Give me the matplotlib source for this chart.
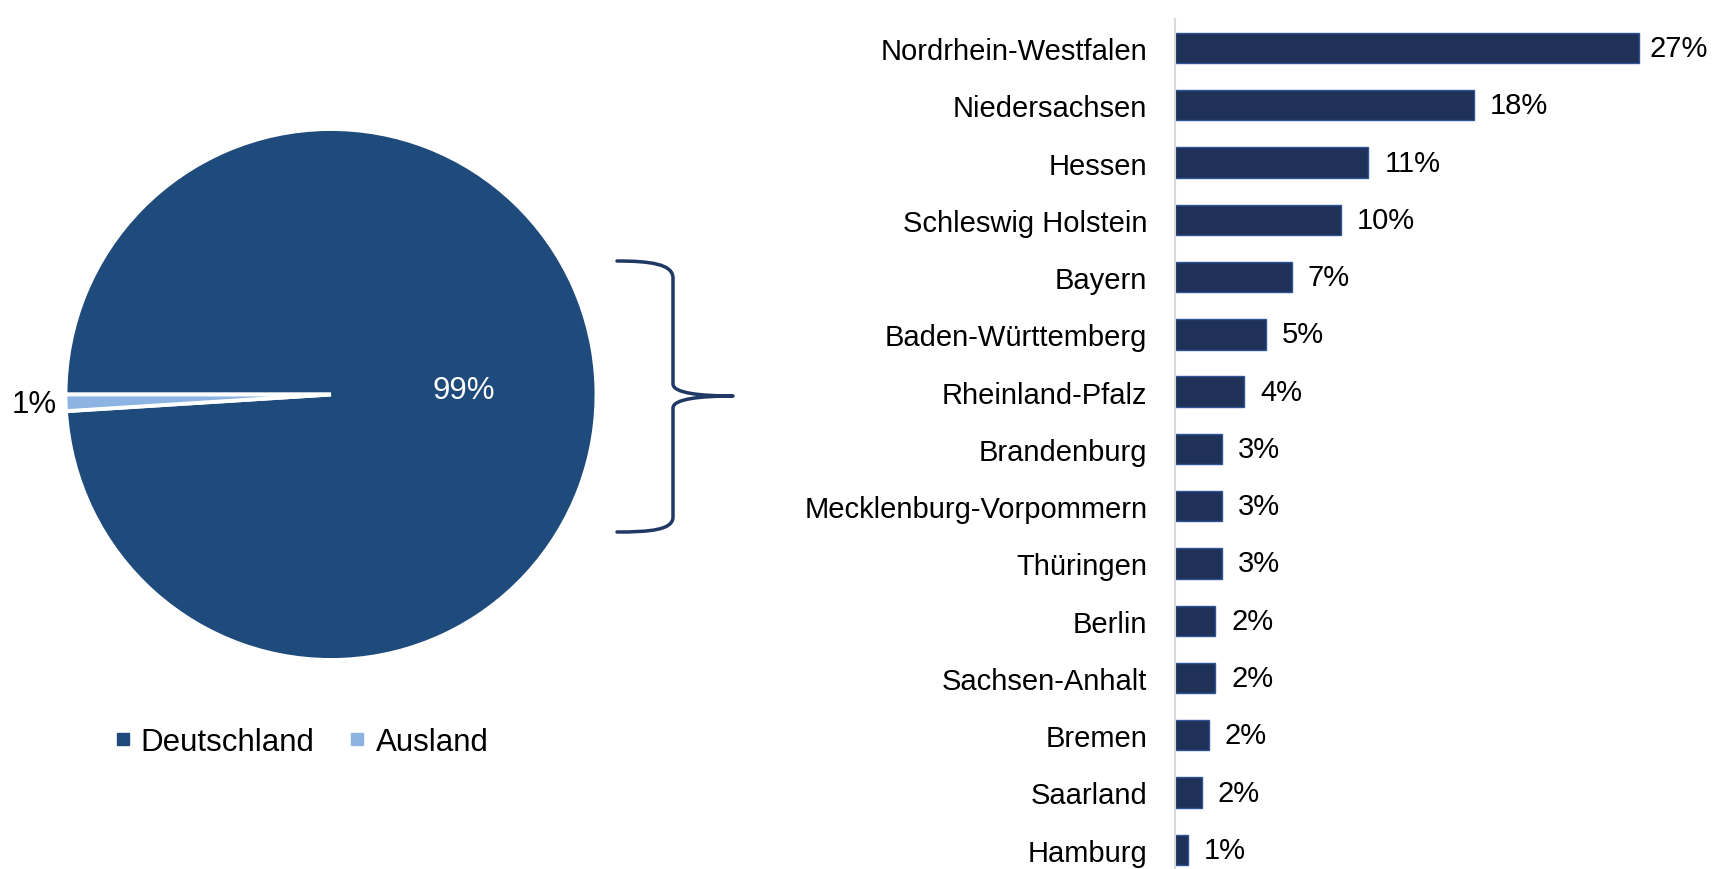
import numpy as np
import matplotlib
matplotlib.use("Agg")
import matplotlib.pyplot as plt
from matplotlib.path import Path
from matplotlib.patches import PathPatch
from matplotlib.lines import Line2D

plt.rcParams['font.family'] = ['Liberation Sans', 'DejaVu Sans']

# ---- data ----
pie_labels = ["Deutschland", "Ausland"]
pie_values = [99, 1]

states = ["Nordrhein-Westfalen", "Niedersachsen", "Hessen", "Schleswig Holstein",
          "Bayern", "Baden-Württemberg", "Rheinland-Pfalz", "Brandenburg",
          "Mecklenburg-Vorpommern", "Thüringen", "Berlin", "Sachsen-Anhalt",
          "Bremen", "Saarland", "Hamburg"]
state_values = [27.3, 17.6, 11.4, 9.8, 6.9, 5.4, 4.1, 2.8, 2.8, 2.8, 2.4, 2.4, 2.0, 1.6, 0.8]

# ---- style ----
W, H = 1713, 870
DE_COL = "#1F4A7C"
AUS_COL = "#8DB3E2"
BAR_COL = "#1F3157"
BAR_EDGE = "#2F5597"
BRACE_COL = "#1F3864"

fig = plt.figure(figsize=(W / 100, H / 100), dpi=100)

# ---- pie ----
cx, cy, r = 331, 395.5, 265.5
ax_pie = fig.add_axes([(cx - r) / W, 1 - (cy + r) / H, 2 * r / W, 2 * r / H])
total = sum(pie_values)
start = 180 + 360 * pie_values[1] / total
wedges, _ = ax_pie.pie(pie_values, colors=[DE_COL, AUS_COL], startangle=start,
                       wedgeprops=dict(edgecolor="white", linewidth=2.8))
ax_pie.set_xlim(-1, 1)
ax_pie.set_ylim(-1, 1)
ax_pie.set_aspect("equal")

pct_dist = [0.5, 1.12]
pct_col = ["white", "black"]
for w, v, d, c in zip(wedges, pie_values, pct_dist, pct_col):
    ang = np.deg2rad((w.theta1 + w.theta2) / 2)
    ax_pie.text(d * np.cos(ang), d * np.sin(ang), f"{v}%", color=c,
                ha="center", va="center", fontsize=22.5)

handles = [Line2D([], [], linestyle="none", marker="s", markersize=8.6,
                  markerfacecolor=c, markeredgecolor=c) for c in [DE_COL, AUS_COL]]
fig.legend(handles, pie_labels, loc="center", bbox_to_anchor=(301.5 / W, 1 - 743 / H),
           ncol=2, frameon=False, fontsize=22.5, handlelength=0.5,
           handletextpad=0.33, columnspacing=1.12, borderpad=0, borderaxespad=0)

# ---- brace ----
pts = [(617, 262), (650, 262), (673, 265), (673, 279),
       (673, 385),
       (673, 394), (700, 397), (733, 397),
       (700, 397), (673, 400), (673, 409),
       (673, 518),
       (673, 531), (650, 533), (617, 533)]
codes = [Path.MOVETO, Path.CURVE4, Path.CURVE4, Path.CURVE4,
         Path.LINETO,
         Path.CURVE4, Path.CURVE4, Path.CURVE4,
         Path.CURVE4, Path.CURVE4, Path.CURVE4,
         Path.LINETO,
         Path.CURVE4, Path.CURVE4, Path.CURVE4]
verts = [(x / W, 1 - y / H) for x, y in pts]
fig.patches.append(PathPatch(Path(verts, codes), transform=fig.transFigure,
                             facecolor="none", edgecolor=BRACE_COL, linewidth=2.5,
                             capstyle="round", joinstyle="round"))

# ---- bars ----
x0 = 1174.5
top_px, bot_px = 20.4, 879.4
ax_bar = fig.add_axes([x0 / W, 1 - bot_px / H, 510 / W, (bot_px - top_px) / H])
y = np.arange(len(states))
ax_bar.barh(y, state_values, height=0.53, color=BAR_COL, edgecolor=BAR_EDGE, linewidth=1.0)
ax_bar.set_xlim(0, 30)
ax_bar.set_ylim(len(states) - 0.5, -0.5)
ax_bar.set_yticks(y)
ax_bar.set_yticklabels(states, fontsize=21)
ax_bar.tick_params(axis="y", length=0, pad=19.5)
ax_bar.set_xticks([])
for s in ["top", "right", "bottom"]:
    ax_bar.spines[s].set_visible(False)
ax_bar.spines["left"].set_color("#D9D9D9")
ax_bar.spines["left"].set_linewidth(1.5)
for yi, v in zip(y, state_values):
    off = 8 if v == max(state_values) else 11.5
    ax_bar.annotate(f"{round(v):d}%", xy=(v, yi), xytext=(off, 0), textcoords="offset points",
                    ha="left", va="center", fontsize=21)

fig.savefig("out.png", dpi=100)
